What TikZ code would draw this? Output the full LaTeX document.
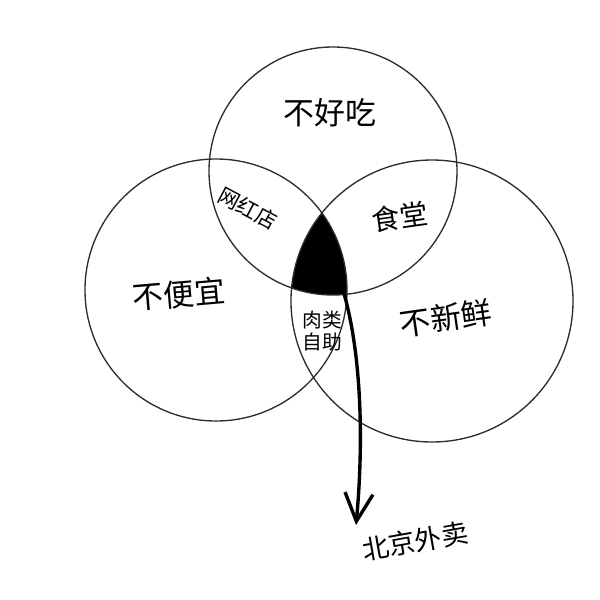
\documentclass[tikz,border=0pt]{standalone}
\usepackage{fontspec}
\usepackage{xcolor}
\usepackage{tikz}
\usetikzlibrary{arrows.meta}
\newfontfamily\cjk{Noto Sans CJK SC}
\definecolor{zw}{RGB}{0,0,0}
\definecolor{gs}{RGB}{45,45,45}
\newcommand{\ZW}[1]{\textcolor{zw}{#1}}
\newcommand{\fs}[1]{\cjk\fontsize{#1}{#1}\selectfont}

\begin{document}
\begin{tikzpicture}[x=0.025cm,y=-0.025cm]
  \useasboundingbox (0,0) rectangle (600,600);
  \coordinate (ctop) at (333,171);
  \coordinate (clft) at (216,290);
  \coordinate (crgt) at (432,301);

  % kern
  \begin{scope}
    \clip (ctop) circle[radius=124];
    \clip (clft) circle[radius=131];
    \fill[zw] (crgt) circle[radius=141];
  \end{scope}

  \draw[gs,line width=0.95pt] (ctop) circle[radius=124];
  \draw[gs,line width=0.95pt] (clft) circle[radius=131];
  \draw[gs,line width=0.95pt] (crgt) circle[radius=141];

  % sets
  \node[font=\fs{22}] (bhc) at (330,113) {\ZW{不好吃}};
  \node[font=\fs{22},rotate=5] (bpy) at (179,294) {\ZW{不便宜}};
  \node[font=\fs{22},rotate=8] (bxx) at (446,318) {\ZW{不新鲜}};

  % pairs
  \node[font=\fs{15},rotate=-28,inner sep=1pt] (whd) at (248,208) {\ZW{网红店}};
  \node[font=\fs{20},rotate=8,inner sep=1pt] (st) at (400,217) {\ZW{食堂}};
  \node[font=\fs{14},align=center,inner sep=0pt] (rlzz) at (322,331) {\ZW{肉类}\\[2pt]\ZW{自助}};

  % all three
  \coordinate (kern) at (338,275);
  \coordinate (tip) at (356,525);
  \node[font=\fs{19},rotate=10,inner sep=1pt] (bjwm) at (415,541) {\ZW{北京外卖}};
  \draw[zw,line width=2.4pt,-{Straight Barb[length=7mm,width=7mm]}] (kern) .. controls (362,340) and (364,440) .. (tip);
\end{tikzpicture}
\end{document}
